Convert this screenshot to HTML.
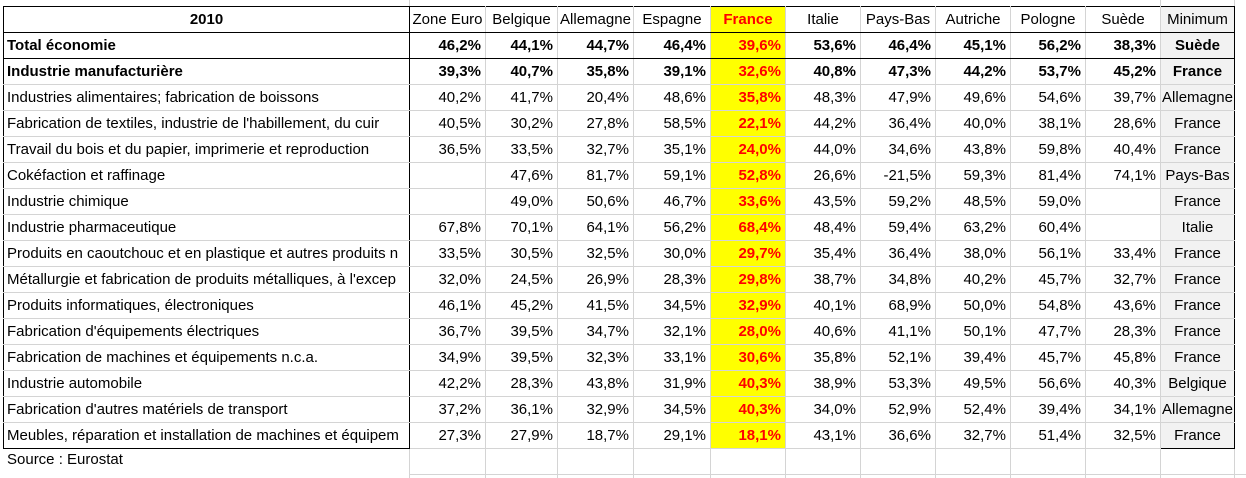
<!DOCTYPE html>
<html><head><meta charset="utf-8"><style>
body{margin:0;width:1246px;height:478px;background:#fff;overflow:hidden;position:relative;font-family:"Liberation Sans",Arial,sans-serif;}
table{position:absolute;left:3px;top:6px;border-collapse:collapse;table-layout:fixed;}
td{height:25px;padding:0 4px 0 3px;border:1px solid #d4d4d4;font-size:15px;white-space:nowrap;overflow:hidden;text-align:right;color:#000;}
td.l{text-align:left;border-left:1px solid #000;border-right:1px solid #000;padding-left:3px;}
tr.h td{text-align:center;padding:0;border-top:1px solid #000;border-bottom:1px solid #000;}
tr.b td{font-weight:bold;}
tr.t td{border-bottom:1px solid #000;}
td.f{background:#ffff00;color:#ff0000;font-weight:bold;}
td.m{background:#f2f2f2;text-align:center;padding:0;border-left:1px solid #000;border-right:1px solid #000;}
tr.last td{border-bottom:1px solid #000;}
tr.last td.n{border-bottom:1px solid #d4d4d4;}
.src{position:absolute;left:7px;top:451px;font-size:15px;}
.g{position:absolute;background:#d4d4d4;}
</style></head><body>
<div class="g" style="left:409px;top:448px;width:1px;height:30px"></div>
<div class="g" style="left:485px;top:448px;width:1px;height:30px"></div>
<div class="g" style="left:557px;top:448px;width:1px;height:30px"></div>
<div class="g" style="left:633px;top:448px;width:1px;height:30px"></div>
<div class="g" style="left:710px;top:448px;width:1px;height:30px"></div>
<div class="g" style="left:785px;top:448px;width:1px;height:30px"></div>
<div class="g" style="left:860px;top:448px;width:1px;height:30px"></div>
<div class="g" style="left:935px;top:448px;width:1px;height:30px"></div>
<div class="g" style="left:1010px;top:448px;width:1px;height:30px"></div>
<div class="g" style="left:1085px;top:448px;width:1px;height:30px"></div>
<div class="g" style="left:1160px;top:448px;width:1px;height:30px"></div>
<div class="g" style="left:1234px;top:0;width:1px;height:478px"></div>
<div class="g" style="left:409px;top:474px;width:837px;height:1px"></div>
<div class="g" style="left:409px;top:0;width:1px;height:6px"></div>
<div class="g" style="left:1160px;top:0;width:1px;height:6px"></div>
<table>
<colgroup><col style="width:406px"><col style="width:76px"><col style="width:72px"><col style="width:76px"><col style="width:77px"><col style="width:75px"><col style="width:75px"><col style="width:75px"><col style="width:75px"><col style="width:75px"><col style="width:75px"><col style="width:74px"></colgroup>
<tr class="h"><td class="l" style="text-align:center;font-weight:bold">2010</td><td>Zone Euro</td><td>Belgique</td><td>Allemagne</td><td>Espagne</td><td class="f">France</td><td>Italie</td><td>Pays-Bas</td><td>Autriche</td><td>Pologne</td><td>Suède</td><td class="m" style="border-top:1px solid #000">Minimum</td></tr>
<tr class="b t"><td class="l">Total économie</td><td>46,2%</td><td>44,1%</td><td>44,7%</td><td>46,4%</td><td class="f">39,6%</td><td>53,6%</td><td>46,4%</td><td>45,1%</td><td>56,2%</td><td>38,3%</td><td class="m">Suède</td></tr>
<tr class="b"><td class="l">Industrie manufacturière</td><td>39,3%</td><td>40,7%</td><td>35,8%</td><td>39,1%</td><td class="f">32,6%</td><td>40,8%</td><td>47,3%</td><td>44,2%</td><td>53,7%</td><td>45,2%</td><td class="m">France</td></tr>
<tr><td class="l">Industries alimentaires; fabrication de boissons</td><td>40,2%</td><td>41,7%</td><td>20,4%</td><td>48,6%</td><td class="f">35,8%</td><td>48,3%</td><td>47,9%</td><td>49,6%</td><td>54,6%</td><td>39,7%</td><td class="m">Allemagne</td></tr>
<tr><td class="l">Fabrication de textiles, industrie de l'habillement, du cuir</td><td>40,5%</td><td>30,2%</td><td>27,8%</td><td>58,5%</td><td class="f">22,1%</td><td>44,2%</td><td>36,4%</td><td>40,0%</td><td>38,1%</td><td>28,6%</td><td class="m">France</td></tr>
<tr><td class="l">Travail du bois et du papier, imprimerie et reproduction</td><td>36,5%</td><td>33,5%</td><td>32,7%</td><td>35,1%</td><td class="f">24,0%</td><td>44,0%</td><td>34,6%</td><td>43,8%</td><td>59,8%</td><td>40,4%</td><td class="m">France</td></tr>
<tr><td class="l">Cokéfaction et raffinage</td><td></td><td>47,6%</td><td>81,7%</td><td>59,1%</td><td class="f">52,8%</td><td>26,6%</td><td>-21,5%</td><td>59,3%</td><td>81,4%</td><td>74,1%</td><td class="m">Pays-Bas</td></tr>
<tr><td class="l">Industrie chimique</td><td></td><td>49,0%</td><td>50,6%</td><td>46,7%</td><td class="f">33,6%</td><td>43,5%</td><td>59,2%</td><td>48,5%</td><td>59,0%</td><td></td><td class="m">France</td></tr>
<tr><td class="l">Industrie pharmaceutique</td><td>67,8%</td><td>70,1%</td><td>64,1%</td><td>56,2%</td><td class="f">68,4%</td><td>48,4%</td><td>59,4%</td><td>63,2%</td><td>60,4%</td><td></td><td class="m">Italie</td></tr>
<tr><td class="l">Produits en caoutchouc et en plastique et autres produits n</td><td>33,5%</td><td>30,5%</td><td>32,5%</td><td>30,0%</td><td class="f">29,7%</td><td>35,4%</td><td>36,4%</td><td>38,0%</td><td>56,1%</td><td>33,4%</td><td class="m">France</td></tr>
<tr><td class="l">Métallurgie et fabrication de produits métalliques, à l'excep</td><td>32,0%</td><td>24,5%</td><td>26,9%</td><td>28,3%</td><td class="f">29,8%</td><td>38,7%</td><td>34,8%</td><td>40,2%</td><td>45,7%</td><td>32,7%</td><td class="m">France</td></tr>
<tr><td class="l">Produits informatiques, électroniques</td><td>46,1%</td><td>45,2%</td><td>41,5%</td><td>34,5%</td><td class="f">32,9%</td><td>40,1%</td><td>68,9%</td><td>50,0%</td><td>54,8%</td><td>43,6%</td><td class="m">France</td></tr>
<tr><td class="l">Fabrication d'équipements électriques</td><td>36,7%</td><td>39,5%</td><td>34,7%</td><td>32,1%</td><td class="f">28,0%</td><td>40,6%</td><td>41,1%</td><td>50,1%</td><td>47,7%</td><td>28,3%</td><td class="m">France</td></tr>
<tr><td class="l">Fabrication de machines et équipements n.c.a.</td><td>34,9%</td><td>39,5%</td><td>32,3%</td><td>33,1%</td><td class="f">30,6%</td><td>35,8%</td><td>52,1%</td><td>39,4%</td><td>45,7%</td><td>45,8%</td><td class="m">France</td></tr>
<tr><td class="l">Industrie automobile</td><td>42,2%</td><td>28,3%</td><td>43,8%</td><td>31,9%</td><td class="f">40,3%</td><td>38,9%</td><td>53,3%</td><td>49,5%</td><td>56,6%</td><td>40,3%</td><td class="m">Belgique</td></tr>
<tr><td class="l">Fabrication d'autres matériels de transport</td><td>37,2%</td><td>36,1%</td><td>32,9%</td><td>34,5%</td><td class="f">40,3%</td><td>34,0%</td><td>52,9%</td><td>52,4%</td><td>39,4%</td><td>34,1%</td><td class="m">Allemagne</td></tr>
<tr class="last"><td class="l">Meubles, réparation et installation de machines et équipem</td><td class="n">27,3%</td><td class="n">27,9%</td><td class="n">18,7%</td><td class="n">29,1%</td><td class="f n">18,1%</td><td class="n">43,1%</td><td class="n">36,6%</td><td class="n">32,7%</td><td class="n">51,4%</td><td class="n">32,5%</td><td class="m">France</td></tr>
</table>
<div class="src">Source : Eurostat</div>
</body></html>
